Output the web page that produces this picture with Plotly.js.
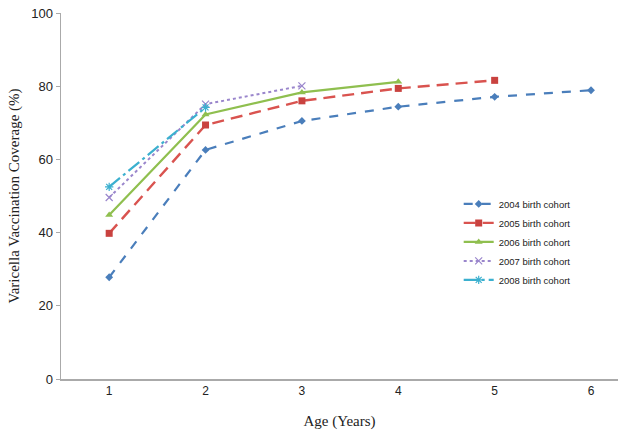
<!DOCTYPE html>
<html><head><meta charset="utf-8">
<script src="https://cdn.plot.ly/plotly-3.0.1.min.js"></script>
<style>html,body{margin:0;padding:0;background:#fff}#chart{width:624px;height:436px}</style>
</head><body><div id="chart"></div>
<script>
const ages2004 = [1, 2, 3, 4, 5, 6];
const cov2004 = [27.8, 62.6, 70.5, 74.4, 77.1, 78.9];
const ages2005 = [1, 2, 3, 4, 5];
const cov2005 = [39.8, 69.4, 76.0, 79.4, 81.6];
const ages2006 = [1, 2, 3, 4];
const cov2006 = [44.8, 72.3, 78.3, 81.2];
const ages2007 = [1, 2, 3];
const cov2007 = [49.6, 75.1, 80.1];
const ages2008 = [1, 2];
const cov2008 = [52.5, 74.2];
const seriesNames = ['2004 birth cohort','2005 birth cohort','2006 birth cohort','2007 birth cohort','2008 birth cohort'];
const yTicks = [0, 20, 40, 60, 80, 100];
const xTicks = [1, 2, 3, 4, 5, 6];

const traces = [
  {x: ages2004, y: cov2004, name: seriesNames[0], mode:'lines+markers',
   line:{color:'#4a7ebb', width:2.2, dash:'dash'}, marker:{symbol:'diamond', size:6, color:'#4a7ebb'}},
  {x: ages2005, y: cov2005, name: seriesNames[1], mode:'lines+markers',
   line:{color:'#d9534f', width:2.4, dash:'12px,7px'}, marker:{symbol:'square', size:7, color:'#c9423f'}},
  {x: ages2006, y: cov2006, name: seriesNames[2], mode:'lines+markers',
   line:{color:'#8fbf4f', width:2.2}, marker:{symbol:'triangle-up', size:7, color:'#8fbf4f'}},
  {x: ages2007, y: cov2007, name: seriesNames[3], mode:'lines+markers',
   line:{color:'#9a86cc', width:2, dash:'dot'}, marker:{symbol:'x-thin-open', size:7, color:'#9a86cc', line:{width:1.2, color:'#9a86cc'}}},
  {x: ages2008, y: cov2008, name: seriesNames[4], mode:'lines+markers',
   line:{color:'#3bb0cf', width:2.2, dash:'14px,4px,3px,4px'}, marker:{symbol:'asterisk-open', size:7, color:'#3bb0cf', line:{width:1.2, color:'#3bb0cf'}}}
];

const layout = {
  width: 624, height: 436,
  margin: {l: 61, r: 6, t: 13, b: 57},
  paper_bgcolor: '#fff', plot_bgcolor: '#fff',
  showlegend: true,
  legend: {x: 0.714, y: 0.518, xanchor: 'left', yanchor: 'top', itemwidth: 30,
           font: {family: 'Liberation Sans, Arial, sans-serif', size: 9.5, color: '#222'}, bgcolor: 'rgba(0,0,0,0)'},
  xaxis: {
    range: [0.5, 6.28], tickvals: xTicks, ticktext: xTicks.map(String),
    showgrid: false, zeroline: false, showline: true, linecolor: '#aaa', linewidth: 1.5,
    ticks: '', ticklen: 0,
    tickfont: {family: 'Liberation Sans, Arial, sans-serif', size: 12, color: '#222'},
    title: {text: 'Age (Years)', font: {family: 'Liberation Serif, Times New Roman, serif', size: 15, color: '#222'}, standoff: 18}
  },
  yaxis: {
    range: [0, 100], tickvals: yTicks, ticktext: yTicks.map(String),
    showgrid: false, zeroline: false, showline: true, linecolor: '#aaa', linewidth: 1.5,
    ticks: 'outside', ticklen: 4, tickcolor: '#aaa',
    tickfont: {family: 'Liberation Sans, Arial, sans-serif', size: 13, color: '#222'},
    title: {text: 'Varicella Vaccination Coverage (%)', font: {family: 'Liberation Serif, Times New Roman, serif', size: 15, color: '#222'}, standoff: 8}
  }
};
Plotly.newPlot('chart', traces, layout, {displayModeBar: false, staticPlot: true});
</script></body></html>
